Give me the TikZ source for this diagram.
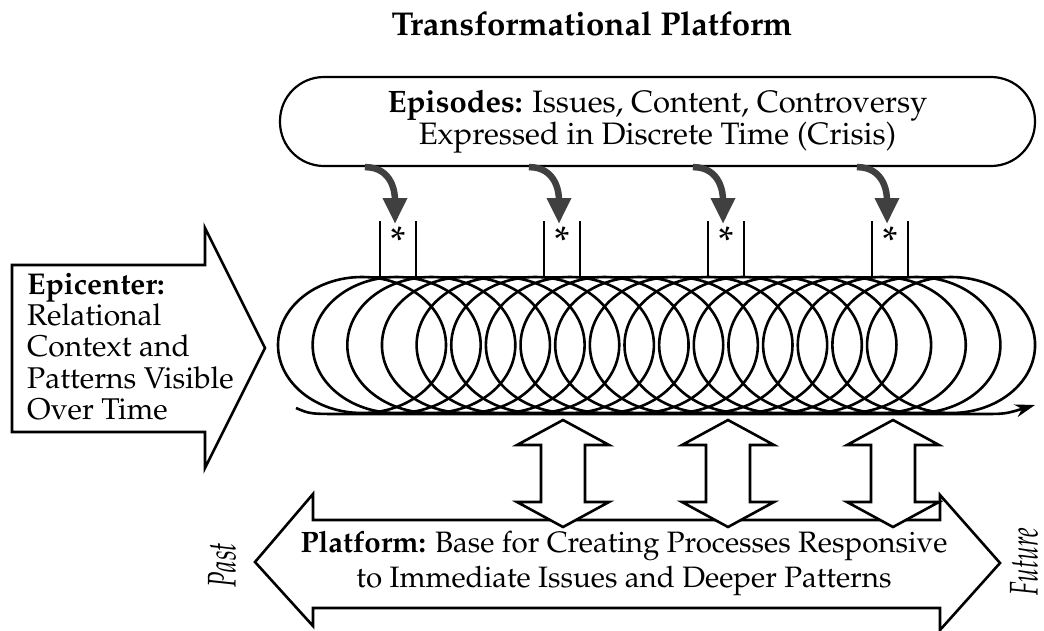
\documentclass[tikz,border=0pt]{standalone}
\usepackage[T1]{fontenc}
\usepackage{mathpazo}
\usepackage{graphicx}
\usetikzlibrary{arrows.meta, calc}

\begin{document}
\begin{tikzpicture}[
    x=1pt, y=-1pt,
    outline/.style={draw, line width=2.6pt, line join=miter},
    coil/.style={draw, line width=2.6pt},
    slot/.style={draw, line width=2.2pt},
    drop/.style={line width=6.5pt, black!75, -{Triangle[length=26pt, width=23pt]}},
    body/.style={font=\fontsize{30}{31.3}\selectfont},
    dbl/.style={outline, fill=white},
    side/.style={rotate=90, font=\fontsize{40}{40}\selectfont, inner sep=0pt},
]
\useasboundingbox (0,0) rectangle (1044,630);

\node[font=\fontsize{33}{36}\selectfont\bfseries, anchor=base] (title) at (592,35) {Transformational Platform};

% episodes box on top
\node[draw, line width=2.2pt, rounded corners=44pt, minimum width=755pt, minimum height=89pt,
      align=center, font=\fontsize{31}{32}\selectfont] (episodes) at (657.5,121.5)
      {\textbf{Episodes:} Issues, Content, Controversy\\Expressed in Discrete Time (Crisis)};

% entry slots on the coil
\foreach \n/\cx in {1/398, 2/562, 3/726, 4/890} {
    \draw[slot] (\cx-18,221) -- (\cx-18,277);
    \draw[slot] (\cx+18,221) -- (\cx+18,277);
    \node[font=\fontsize{40}{40}\selectfont, inner sep=0pt, anchor=north] (star\n) at (\cx,227) {*};
    \coordinate (s\n) at ($(episodes.south west)+(\cx-312,0)$);
    \coordinate (t\n) at (\cx-3,224);
    \draw[drop] (s\n) .. controls +(28,0) and +(0,-30) .. (t\n);
}

% the coil
\foreach \i in {0,...,17}
    \draw[coil] ({362+34.65*\i},345) ellipse [x radius=84pt, y radius=68pt];
\draw[coil] (362,277) -- (951,277);
\coordinate (cstart) at (296,408);
\coordinate (cend) at (1035,405);
\draw[coil, -{Stealth[length=20pt, width=13pt]}] (cstart) .. controls (310,414) .. (345,414)
    -- (980,414) .. controls (1005,414) .. (cend);

% epicenter arrow
\draw[outline, fill=white] (12,265) -- (205,265) -- (205,228) -- (265,348) -- (205,468)
    -- (205,432) -- (12,432) -- cycle;
\node[body, align=left, anchor=north west, inner sep=0pt] (epicenter) at (27,273)
    {\textbf{Epicenter:}\\Relational\\Context and\\Patterns Visible\\Over Time};

% platform arrow
\draw[outline, fill=white] (255,562) -- (313,494) -- (313,520) -- (940,520) -- (940,495)
    -- (1000,563) -- (940,630) -- (940,608) -- (313,608) -- (313,626) -- cycle;
\node[align=center, font=\fontsize{29.5}{35}\selectfont] (platform) at (624,563)
    {\textbf{Platform:} Base for Creating Processes Responsive\\to Immediate Issues and Deeper Patterns};

\foreach \cx in {563,728,893}
    \draw[dbl] (\cx,420) -- (\cx+46,445) -- (\cx+22,445) -- (\cx+22,502) -- (\cx+46,502)
        -- (\cx,527) -- (\cx-46,502) -- (\cx-22,502) -- (\cx-22,445) -- (\cx-46,445) -- cycle;

\node[side] (past) at (222,565) {\scalebox{0.63}[1]{\itshape Past}};
\node[side] (future) at (1024,562) {\scalebox{0.61}[1]{\itshape Future}};
\end{tikzpicture}
\end{document}
